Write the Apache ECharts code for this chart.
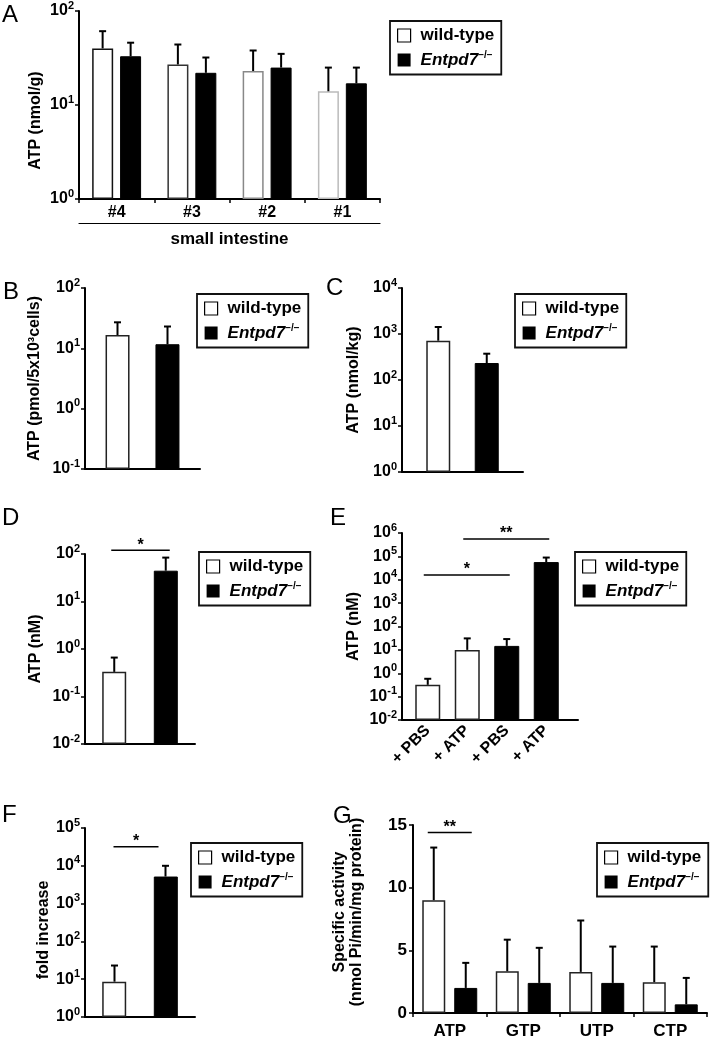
<!DOCTYPE html>
<html><head><meta charset="utf-8">
<script src="https://cdn.jsdelivr.net/npm/echarts@6/dist/echarts.min.js"></script>
<style>html,body{margin:0;padding:0;background:#fff}#c{width:714px;height:1043px}</style>
</head><body><div id="c"></div>
<script>
// ---------- data ----------
const aCats = ['#4', '#3', '#2', '#1'];
const aWT = [40, 27, 23, 14];
const aWTUpper = [61, 44, 38, 25];
const aKO = [33, 22, 25, 17];
const aKOUpper = [46, 32, 35, 25];

const bWT = [16.6], bWTUpper = [27];
const bKO = [11.7], bKOUpper = [23];

const cWT = [715], cWTUpper = [1420];
const cKO = [234], cKOUpper = [373];

const dWT = [0.33], dWTUpper = [0.66];
const dKO = [44.5], dKOUpper = [84];

const eCats = ['+ PBS', '+ ATP', '+ PBS', '+ ATP'];
const eGroup = ['wild-type', 'wild-type', 'Entpd7', 'Entpd7'];
const eVals = [0.32, 10, 14.8, 57000];
const eUpper = [0.58, 31, 29, 89000];

const fWT = [8.6], fWTUpper = [23];
const fKO = [5200], fKOUpper = [10000];

const gCats = ['ATP', 'GTP', 'UTP', 'CTP'];
const gWT = [9.0, 3.33, 3.28, 2.46];
const gWTUpper = [13.2, 5.85, 7.38, 5.3];
const gKO = [2.0, 2.4, 2.4, 0.69];
const gKOUpper = [4.0, 5.2, 5.3, 2.8];

// significance: [fromCategory, toCategory, level, mark]
const sigD = [[0, 0, 120, '*']];
const sigE = [[0, 2, 16000, '*'], [1, 3, 550000, '**']];
const sigF = [[0, 0, 32000, '*']];
const sigG = [[0, 0, 14.4, '**']];

// ---------- styling / build ----------
const FF = '"Liberation Sans", Arial, Helvetica, sans-serif';
const option = {animation: false, backgroundColor: '#fff', grid: [], xAxis: [], yAxis: [], series: [], legend: [], title: []};
const push = (k, o) => { option[k].push(o); return option[k].length - 1; };

const logRich = {
  b: {fontFamily: FF, fontWeight: 'bold', fontSize: 16, color: '#000', lineHeight: 22},
  s: {fontFamily: FF, fontWeight: 'bold', fontSize: 11, color: '#000', verticalAlign: 'top', lineHeight: 11}
};
const nameStyle = (pad) => ({fontFamily: FF, fontWeight: 'bold', fontSize: 16, color: '#000', padding: pad || 0, lineHeight: 17});

function logY(grid, min, max, name, gap, pad, extra) {
  return push('yAxis', Object.assign({
    type: 'log', logBase: 10, gridIndex: grid, min: min, max: max, startValue: min,
    splitNumber: Math.round(Math.log10(max / min)),
    axisLine: {show: true, lineStyle: {color: '#000', width: 2}},
    axisTick: {show: true, length: 4, lineStyle: {color: '#000', width: 1.5}},
    minorTick: {show: false}, splitLine: {show: false},
    axisLabel: {margin: 5, formatter: v => '{b|10}{s|' + Math.round(Math.log10(v)) + '}', rich: logRich},
    name: name, nameLocation: 'middle', nameRotate: 90, nameGap: gap, nameTextStyle: nameStyle(pad)
  }, extra || {}));
}
function catX(grid, data, extra) {
  return push('xAxis', Object.assign({
    type: 'category', gridIndex: grid, data: data, position: 'bottom',
    axisLine: {show: true, lineStyle: {color: '#000', width: 2}},
    axisTick: {show: false}, axisLabel: {show: false}, splitLine: {show: false}
  }, extra || {}));
}
const wtStyle = {color: '#fff', borderColor: '#222', borderWidth: 1.5};
const koStyle = {color: '#000', borderColor: '#000', borderWidth: 1};

function bar(name, xi, yi, data, width, gap, style) {
  return push('series', {type: 'bar', name: name, xAxisIndex: xi, yAxisIndex: yi, data: data,
    barWidth: width, barGap: gap, itemStyle: style, z: 2, silent: true});
}
function errBars(xi, yi, vals, ups, off) {
  return push('series', {type: 'custom', xAxisIndex: xi, yAxisIndex: yi, z: 3, clip: false, silent: true,
    data: vals.map((v, i) => [i, v, ups[i]]),
    renderItem: (p, api) => {
      const a = api.coord([api.value(0), api.value(1)]);
      const b = api.coord([api.value(0), api.value(2)]);
      const x = a[0] + off;
      const st = {stroke: '#000', lineWidth: 2};
      return {type: 'group', children: [
        {type: 'line', shape: {x1: x, y1: a[1], x2: x, y2: b[1]}, style: st},
        {type: 'line', shape: {x1: x - 3.5, y1: b[1], x2: x + 3.5, y2: b[1]}, style: st}
      ]};
    }});
}
function sigLines(xi, yi, sig, offA, offB, extA, extB) {
  return push('series', {type: 'custom', xAxisIndex: xi, yAxisIndex: yi, z: 4, clip: false, silent: true,
    data: sig.map(s => [s[0], s[2], s[1]]),
    renderItem: (p, api) => {
      const s = sig[p.dataIndex];
      const a = api.coord([s[0], s[2]]);
      const b = api.coord([s[1], s[2]]);
      const x1 = a[0] + offA - extA, x2 = b[0] + offB + extB;
      return {type: 'group', children: [
        {type: 'line', shape: {x1: x1, y1: a[1], x2: x2, y2: a[1]}, style: {stroke: '#000', lineWidth: 1.5}},
        {type: 'text', x: (x1 + x2) / 2, y: a[1] + 3, style: {text: s[3], fontFamily: FF, fontWeight: 'bold', fontSize: 16, fill: '#000', align: 'center', verticalAlign: 'bottom'}}
      ]};
    }});
}
function legendAt(left, top) {
  push('legend', {
    left: left, top: top, orient: 'vertical', icon: 'rect', itemWidth: 13, itemHeight: 13, itemGap: 6,
    padding: [6, 7, 6, 7], borderColor: '#111', borderWidth: 1.8, backgroundColor: '#fff', selectedMode: false,
    data: [{name: 'wild-type', itemStyle: {color: '#fff', borderColor: '#000', borderWidth: 1.2}},
           {name: 'Entpd7', itemStyle: {color: '#000', borderColor: '#000', borderWidth: 0}}],
    formatter: n => n === 'Entpd7' ? '{i|Entpd7}{s|\u2212/\u2212}' : '{n|wild-type}',
    textStyle: {width: 78, padding: [0, 0, 0, 5], rich: {
      n: {fontFamily: FF, fontWeight: 'bold', fontSize: 17, color: '#000', lineHeight: 20},
      i: {fontFamily: FF, fontWeight: 'bold', fontStyle: 'italic', fontSize: 17, color: '#000', lineHeight: 20},
      s: {fontFamily: FF, fontWeight: 'bold', fontSize: 10, color: '#000', verticalAlign: 'top', lineHeight: 11}
    }}
  });
}
function letter(t, left, top) {
  push('title', {text: t, left: left, top: top, padding: 0,
    textStyle: {fontFamily: FF, fontWeight: 'normal', fontSize: 24, color: '#000', lineHeight: 24}});
}

// ---- Panel A ----
let g = push('grid', {left: 79, top: 10, width: 301, height: 189});
let xi = catX(g, aCats, {axisTick: {show: true, length: 4, lineStyle: {color: '#000', width: 1.5}},
  axisLabel: {show: true, margin: 6, fontFamily: FF, fontWeight: 'bold', fontSize: 16, color: '#000'}});
catX(g, aCats, {offset: 24, axisLine: {show: true, lineStyle: {color: '#000', width: 1.2}},
  name: 'small intestine', nameLocation: 'middle', nameGap: 8, nameTextStyle: Object.assign(nameStyle(), {fontSize: 17})});
let yi = logY(g, 1, 100, 'ATP (nmol/g)', 35, [0, 31, 0, 0]);
const aBorders = ['#111', '#333', '#888', '#bbb'];
bar('wild-type', xi, yi, aWT.map((v, i) => ({value: v, itemStyle: {borderColor: aBorders[i]}})), 21, '33%', wtStyle);
bar('Entpd7', xi, yi, aKO, 21, '33%', koStyle);
errBars(xi, yi, aWT, aWTUpper, -14);
errBars(xi, yi, aKO, aKOUpper, 14);
legendAt(390, 21); letter('A', 2, 3);

// ---- Panel B ----
g = push('grid', {left: 85, top: 288, width: 115, height: 181});
xi = catX(g, ['']);
yi = logY(g, 0.1, 100, 'ATP (pmol/5x10\u00B3cells)', 42);
bar('wild-type', xi, yi, bWT, 24, '108%', wtStyle);
bar('Entpd7', xi, yi, bKO, 24, '108%', koStyle);
errBars(xi, yi, bWT, bWTUpper, -25);
errBars(xi, yi, bKO, bKOUpper, 25);
legendAt(197, 294); letter('B', 3, 280);

// ---- Panel C ----
g = push('grid', {left: 402, top: 288, width: 121, height: 184});
xi = catX(g, ['']);
yi = logY(g, 1, 10000, 'ATP (nmol/kg)', 40);
bar('wild-type', xi, yi, cWT, 24, '102%', wtStyle);
bar('Entpd7', xi, yi, cKO, 24, '102%', koStyle);
errBars(xi, yi, cWT, cWTUpper, -24.25);
errBars(xi, yi, cKO, cKOUpper, 24.25);
legendAt(515, 294); letter('C', 326, 276);

// ---- Panel D ----
g = push('grid', {left: 85, top: 554, width: 110, height: 190});
xi = catX(g, ['']);
yi = logY(g, 0.01, 100, 'ATP (nM)', 41);
bar('wild-type', xi, yi, dWT, 24, '115%', wtStyle);
bar('Entpd7', xi, yi, dKO, 24, '115%', koStyle);
errBars(xi, yi, dWT, dWTUpper, -25.75);
errBars(xi, yi, dKO, dKOUpper, 25.75);
sigLines(xi, yi, sigD, -25.75, 25.75, 3, 4);
legendAt(199, 552); letter('D', 2, 506);

// ---- Panel E ----
g = push('grid', {left: 408, top: 533, width: 158, height: 187});
xi = catX(g, eCats, {axisLine: {show: false},
  axisLabel: {show: true, interval: 0, rotate: 45, margin: 8, fontFamily: FF, fontWeight: 'bold', fontSize: 16, color: '#000'}});
yi = logY(g, 0.01, 1000000, 'ATP (nM)', 40, 0, {offset: 6});
push('series', {type: 'bar', name: 'E', xAxisIndex: xi, yAxisIndex: yi, barWidth: 25, z: 2, silent: true,
  data: eVals.map((v, i) => ({value: v, itemStyle: eGroup[i] === 'wild-type' ? wtStyle : koStyle}))});
errBars(xi, yi, eVals, eUpper, 0);
sigLines(xi, yi, sigE, 0, 0, 4, 3);
const gE2 = push('grid', {left: 402, top: 533, width: 176, height: 187});
catX(gE2, ['']);
push('yAxis', {type: 'value', gridIndex: gE2, show: false});
legendAt(575, 552); letter('E', 330, 506);

// ---- Panel F ----
g = push('grid', {left: 85, top: 828, width: 110, height: 189});
xi = catX(g, ['']);
yi = logY(g, 1, 100000, 'fold increase', 33, [0, 15, 0, 0]);
bar('wild-type', xi, yi, fWT, 24, '115%', wtStyle);
bar('Entpd7', xi, yi, fKO, 24, '115%', koStyle);
errBars(xi, yi, fWT, fWTUpper, -25.5);
errBars(xi, yi, fKO, fKOUpper, 25.5);
sigLines(xi, yi, sigF, -25.5, 25.5, 1, -7);
legendAt(191, 843); letter('F', 2, 803);

// ---- Panel G ----
g = push('grid', {left: 413, top: 825, width: 294, height: 188});
xi = catX(g, gCats, {axisTick: {show: true, length: 4, lineStyle: {color: '#000', width: 1.5}},
  axisLabel: {show: true, margin: 10, fontFamily: FF, fontWeight: 'bold', fontSize: 17, color: '#000'}});
yi = push('yAxis', {type: 'value', gridIndex: g, min: 0, max: 15, interval: 5,
  axisLine: {show: true, lineStyle: {color: '#000', width: 2}},
  axisTick: {show: true, length: 4, lineStyle: {color: '#000', width: 1.5}}, splitLine: {show: false},
  axisLabel: {margin: 6, fontFamily: FF, fontWeight: 'bold', fontSize: 17, color: '#000'},
  name: 'Specific activity\n(nmol Pi/min/mg protein)', nameLocation: 'middle', nameRotate: 90, nameGap: 48,
  nameTextStyle: nameStyle([0, 0, 0, 14])});
bar('wild-type', xi, yi, gWT, 23, '39%', wtStyle);
bar('Entpd7', xi, yi, gKO, 23, '39%', koStyle);
errBars(xi, yi, gWT, gWTUpper, -16);
errBars(xi, yi, gKO, gKOUpper, 16);
sigLines(xi, yi, sigG, -16, 16, 6, 6);
legendAt(597, 843); letter('G', 333, 804);

const chart = echarts.init(document.getElementById('c'));
chart.setOption(option);
</script></body></html>
